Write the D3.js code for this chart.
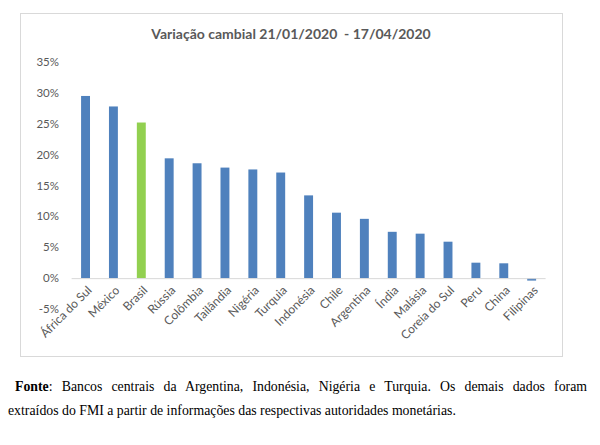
<!DOCTYPE html>
<html>
<head>
<meta charset="utf-8">
<script src="https://cdn.jsdelivr.net/npm/d3@7"></script>
<style>
  body { margin: 0; background: #fff; }
  svg { display: block; }
</style>
</head>
<body>
<div id="viz"></div>
<script>
const countries = ["África do Sul", "México", "Brasil", "Rússia", "Colômbia", "Tailândia", "Nigéria", "Turquia",
  "Indonésia", "Chile", "Argentina", "Índia", "Malásia", "Coreia do Sul", "Peru", "China", "Filipinas"];
const variation = [29.5, 27.8, 25.2, 19.4, 18.6, 17.9, 17.6, 17.1, 13.4, 10.6, 9.6, 7.5, 7.2, 5.9, 2.5, 2.4, -0.4];
const highlight = "Brasil";
const yTicks = [-5, 0, 5, 10, 15, 20, 25, 30, 35];
const title = "Variação cambial 21/01/2020  - 17/04/2020";
const sourceBold = "Fonte";
const sourceLine1 = ": Bancos centrais da Argentina, Indonésia, Nigéria e Turquia. Os demais dados foram";
const sourceLine2 = "extraídos do FMI a partir de informações das respectivas autoridades monetárias.";

const blue = "#4f81bd", green = "#92d050", grey = "#595959";
const w = 600, h = 445;

const svg = d3.select("#viz")
  .append("svg")
  .attr("width", w)
  .attr("height", h);

// chart frame
svg.append("rect")
  .attr("x", 20.5).attr("y", 13.5)
  .attr("width", 542).attr("height", 343)
  .attr("fill", "#fff")
  .attr("stroke", "#d9d9d9");

svg.append("text")
  .attr("x", 291).attr("y", 39)
  .attr("text-anchor", "middle")
  .style("white-space", "pre")
  .attr("font-family", "Lato, 'Open Sans', sans-serif")
  .attr("font-size", 14)
  .attr("font-weight", "bold")
  .attr("fill", grey)
  .text(title);

const x = d3.scaleBand()
  .domain(countries)
  .range([71.6, 545.6])
  .paddingInner(0.68)
  .paddingOuter(0.34);

const y = d3.scaleLinear()
  .domain([-5, 35])
  .range([309, 62]);

// y axis labels
svg.append("g")
  .selectAll("text")
  .data(yTicks)
  .enter()
  .append("text")
  .attr("x", 59)
  .attr("y", d => y(d))
  .attr("dy", "0.35em")
  .attr("text-anchor", "end")
  .attr("font-family", "Lato, 'Open Sans', sans-serif")
  .attr("font-size", 11.5)
  .attr("fill", grey)
  .text(d => d + "%");

// bars
svg.append("g")
  .selectAll("rect")
  .data(countries)
  .enter()
  .append("rect")
  .attr("x", d => x(d))
  .attr("width", x.bandwidth())
  .attr("y", (d, i) => y(Math.max(0, variation[i])))
  .attr("height", (d, i) => Math.abs(y(variation[i]) - y(0)))
  .attr("fill", d => d === highlight ? green : blue);

// zero line
svg.append("line")
  .attr("x1", 71.6).attr("x2", 545.6)
  .attr("y1", y(0) + 0.5).attr("y2", y(0) + 0.5)
  .attr("stroke", "#d9d9d9");

// category labels
svg.append("g")
  .selectAll("text")
  .data(countries)
  .enter()
  .append("text")
  .attr("transform", d => `translate(${x(d) + x.bandwidth() / 2 + 4},${y(0) + 10}) rotate(-45)`)
  .attr("text-anchor", "end")
  .attr("dy", "0.35em")
  .attr("font-family", "Lato, 'Open Sans', sans-serif")
  .attr("font-size", 12)
  .attr("fill", grey)
  .text(d => d);

// source note
const note1 = svg.append("text")
  .attr("x", 15).attr("y", 391)
  .attr("font-family", "'Liberation Serif', 'Times New Roman', serif")
  .attr("font-size", 13.8)
  .attr("fill", "#000");
note1.append("tspan").attr("font-weight", "bold").text(sourceBold);
note1.append("tspan").text(sourceLine1);

// justify first line like the original paragraph
const natural = note1.node().getComputedTextLength();
const gaps = (sourceBold + sourceLine1).split(" ").length - 1;
note1.attr("word-spacing", Math.max(0, (587 - 15 - natural) / gaps));

svg.append("text")
  .attr("x", 8).attr("y", 415)
  .attr("font-family", "'Liberation Serif', 'Times New Roman', serif")
  .attr("font-size", 13.8)
  .attr("fill", "#000")
  .text(sourceLine2);
</script>
</body>
</html>
